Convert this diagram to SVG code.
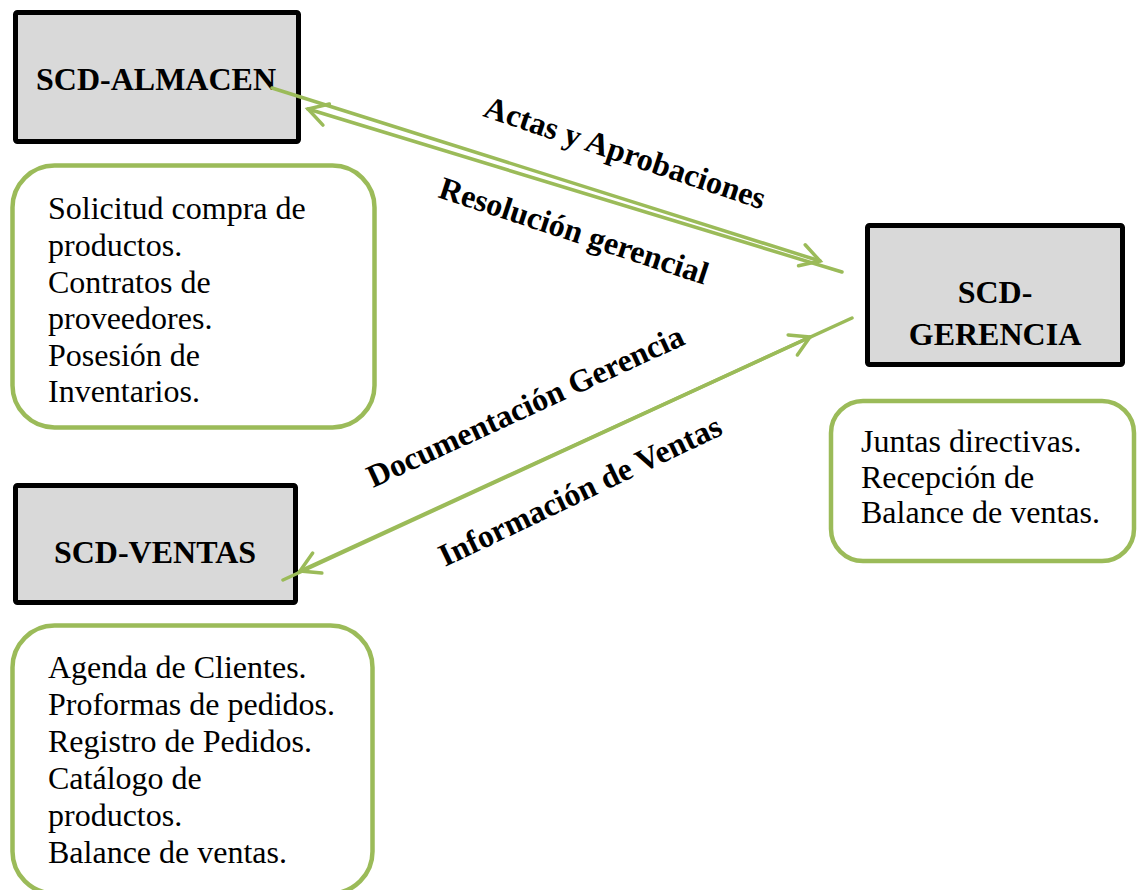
<svg xmlns="http://www.w3.org/2000/svg" width="1137" height="890" viewBox="0 0 1137 890">
  <style>
    .sys { fill: #d9d9d9; stroke: #000000; stroke-width: 5; }
    .note { fill: #ffffff; stroke: #9bbb59; stroke-width: 4.5; }
    .title { font-family: "Liberation Serif", "Times New Roman", serif; font-weight: bold; font-size: 32px; fill: #000000; text-anchor: middle; }
    .body { font-family: "Liberation Serif", "Times New Roman", serif; font-size: 32px; fill: #000000; }
    .flow { font-family: "Liberation Serif", "Times New Roman", serif; font-weight: bold; font-size: 32px; fill: #000000; }
    .link { stroke: #9bbb59; stroke-width: 3.5; fill: none; stroke-linecap: round; }
    .head { stroke: #9bbb59; stroke-width: 3.5; fill: none; stroke-linecap: round; stroke-linejoin: miter; }
  </style>
  <defs>
    <marker id="open-arrow" markerUnits="userSpaceOnUse" viewBox="-24 -14 28 28" refX="0" refY="0" markerWidth="28" markerHeight="28" orient="auto">
      <path class="head" d="M-19,-11 L0,0 L-19,11"/>
    </marker>
  </defs>

  <rect width="1137" height="890" fill="#ffffff"/>

  <!-- Almacén subsystem -->
  <g id="almacen">
    <rect class="sys" x="15.5" y="12.5" width="283" height="129" rx="2"/>
    <text class="title" x="156" y="90">SCD-ALMACEN</text>
  </g>
  <g id="almacen-docs">
    <rect class="note" x="12.5" y="165.5" width="362" height="262" rx="42"/>
    <text class="body" x="48" y="219.3">Solicitud compra de</text>
    <text class="body" x="48" y="255.9">productos.</text>
    <text class="body" x="48" y="292.5">Contratos de</text>
    <text class="body" x="48" y="329.1">proveedores.</text>
    <text class="body" x="48" y="365.7">Posesión de</text>
    <text class="body" x="48" y="402.3">Inventarios.</text>
  </g>

  <!-- Gerencia subsystem -->
  <g id="gerencia">
    <rect class="sys" x="867.5" y="225.5" width="255" height="139" rx="2"/>
    <text class="title" x="995" y="302.5">SCD-</text>
    <text class="title" x="995" y="345">GERENCIA</text>
  </g>
  <g id="gerencia-docs">
    <rect class="note" x="831" y="401" width="303" height="160" rx="32"/>
    <text class="body" x="861" y="451.7">Juntas directivas.</text>
    <text class="body" x="861" y="487.5">Recepción de</text>
    <text class="body" x="861" y="523.3">Balance de ventas.</text>
  </g>

  <!-- Ventas subsystem -->
  <g id="ventas">
    <rect class="sys" x="15.5" y="485.5" width="280" height="117" rx="2"/>
    <text class="title" x="155" y="562.7">SCD-VENTAS</text>
  </g>
  <g id="ventas-docs">
    <rect class="note" x="12.5" y="625.5" width="360" height="268" rx="42"/>
    <text class="body" x="48" y="678.3">Agenda de Clientes.</text>
    <text class="body" x="48" y="715.2">Proformas de pedidos.</text>
    <text class="body" x="48" y="752.1">Registro de Pedidos.</text>
    <text class="body" x="48" y="789">Catálogo de</text>
    <text class="body" x="48" y="825.9">productos.</text>
    <text class="body" x="48" y="862.7">Balance de ventas.</text>
  </g>

  <!-- Information flows -->
  <g id="connectors">
    <line class="link" x1="272" y1="88" x2="820" y2="261" marker-end="url(#open-arrow)"/>
    <line class="link" x1="842" y1="272" x2="308" y2="109" marker-end="url(#open-arrow)"/>
    <line class="link" x1="852" y1="318" x2="300" y2="571" marker-end="url(#open-arrow)"/>
    <line class="link" x1="283" y1="580" x2="810" y2="337" marker-end="url(#open-arrow)"/>
  </g>

  <!-- Flow labels -->
  <g id="flow-labels">
    <text class="flow" transform="translate(482,116) rotate(18.5)">Actas y Aprobaciones</text>
    <text class="flow" transform="translate(437,197) rotate(18.2)">Resolución gerencial</text>
    <text class="flow" transform="translate(373,488) rotate(-24.7)">Documentación Gerencia</text>
    <text class="flow" transform="translate(445,567) rotate(-25.5)">Información de Ventas</text>
  </g>
</svg>
